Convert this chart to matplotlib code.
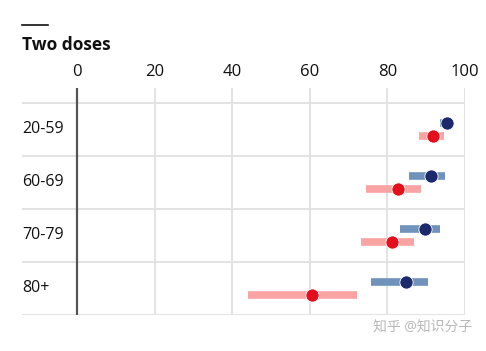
import matplotlib
matplotlib.use("Agg")
import matplotlib.pyplot as plt
from matplotlib.lines import Line2D

plt.rcParams['font.family'] = ['Open Sans', 'Noto Sans CJK SC', 'DejaVu Sans']

groups = ["20-59", "60-69", "70-79", "80+"]
blue_est = [95.4, 91.2, 89.7, 84.7]
blue_lo = [93.6, 85.6, 83.2, 75.8]
blue_hi = [96.6, 94.8, 93.6, 90.5]
red_est = [91.8, 82.7, 81.1, 60.5]
red_lo = [88.1, 74.5, 73.1, 44.1]
red_hi = [94.6, 88.7, 86.9, 72.1]
xticks = [0, 20, 40, 60, 80, 100]

fig = plt.figure(figsize=(4.86, 3.51), dpi=100)
ax = fig.add_axes([22/486, 1-315/351, (465-22)/486, (315-88)/351])
ax.set_xlim(-14.2, 100)
ax.set_ylim(3.5, -0.78)

for s in ax.spines.values():
    s.set_visible(False)

grid_c = '#e0e0e0'
for x in xticks[1:]:
    ax.axvline(x, color=grid_c, lw=1.3, zorder=0)
for i in range(len(groups) + 1):
    ax.axhline(i - 0.5, color=grid_c, lw=1.3, zorder=0)
ax.axvline(0, color='#555555', lw=1.6, zorder=1)

off = 0.12
for i in range(len(groups)):
    yb = i - off
    yr = i + off
    ax.plot([blue_lo[i], blue_hi[i]], [yb, yb], color='#6f93bb', lw=5.5, solid_capstyle='butt', zorder=2)
    ax.plot([red_lo[i], red_hi[i]], [yr, yr], color='#f9a3a3', lw=5.5, solid_capstyle='butt', zorder=2)
    ax.plot(blue_est[i], yb, 'o', color='#1c2a6b', ms=9.5, mec='white', mew=0.6, zorder=3)
    ax.plot(red_est[i], yr, 'o', color='#e3101c', ms=9.5, mec='white', mew=0.6, zorder=3)

ax.set_xticks(xticks)
ax.xaxis.tick_top()
ax.tick_params(axis='x', length=0, pad=6, labelsize=12, colors='#111111')
ax.set_yticks([])
for i, g in enumerate(groups):
    ax.text(-14.2, i, g, ha='left', va='center', fontsize=11.5, color='#111111')

fig.text(22/486, 1-45/351, "Two doses", fontsize=12.5, fontweight='bold', ha='left', va='center', color='#111111')
fig.add_artist(Line2D([22/486, 48/486], [1-25/351, 1-25/351], color='#111111', lw=1.2))

fig.text(472/486, 1-328/351, "知乎 @知识分子", fontsize=10, ha='right', va='center', color='#b8b8b8')

fig.savefig("out.png", dpi=100)
